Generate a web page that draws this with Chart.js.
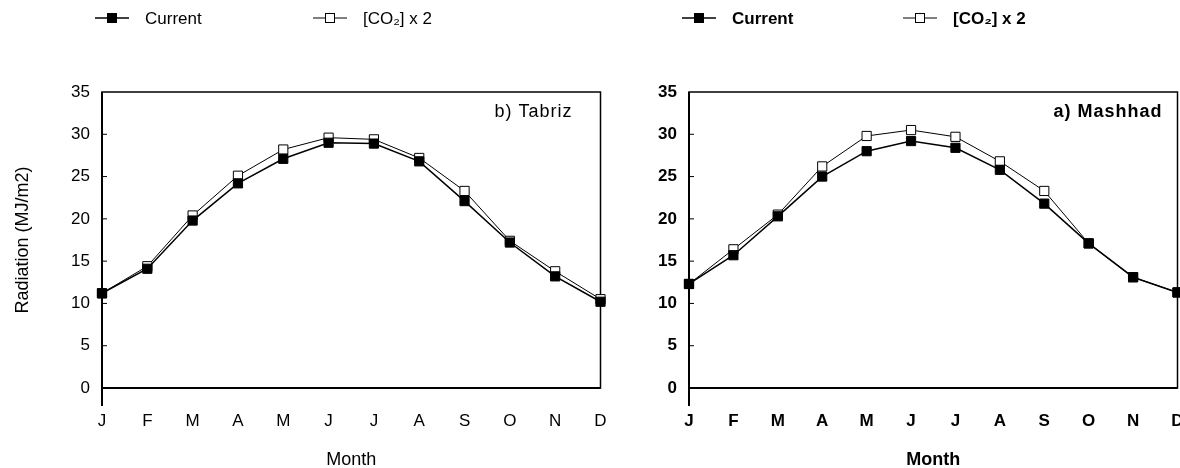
<!DOCTYPE html>
<html>
<head>
<meta charset="utf-8">
<script src="https://cdn.jsdelivr.net/npm/chart.js@4"></script>
<style>
  body { margin: 0; background: #fff; width: 1180px; height: 468px; overflow: hidden; position: relative; }
  canvas { position: absolute; top: 0; }
  #tabriz { left: 0; }
  #mashhad { left: 610px; }
</style>
</head>
<body>
<canvas id="tabriz" width="608" height="468"></canvas>
<canvas id="mashhad" width="575" height="468"></canvas>
<script>
// Data (MJ/m2 per month)
let months = ['J', 'F', 'M', 'A', 'M', 'J', 'J', 'A', 'S', 'O', 'N', 'D'];
let yMin = 0;
let yMax = 35;
let yStep = 5;
let seriesNames = ['Current', '[CO\u2082] x 2'];

let tabrizCurrent = [11.2, 14.1, 19.8, 24.2, 27.1, 29.0, 28.9, 26.8, 22.1, 17.2, 13.2, 10.2];
let tabrizDouble  = [11.2, 14.4, 20.4, 25.1, 28.2, 29.6, 29.4, 27.2, 23.3, 17.4, 13.8, 10.5];

let mashhadCurrent = [12.3, 15.7, 20.3, 25.0, 28.0, 29.2, 28.4, 25.8, 21.8, 17.1, 13.1, 11.3];
let mashhadDouble  = [12.3, 16.4, 20.5, 26.2, 29.8, 30.5, 29.7, 26.8, 23.3, 17.1, 13.1, 11.3];

const FONT = "'Liberation Sans', Arial, Helvetica, sans-serif";

// small legend marker: line with a square in the middle
function drawKey(ctx, cx, cy, filled, lw) {
    ctx.save();
    ctx.strokeStyle = '#000';
    ctx.lineWidth = lw;
    ctx.beginPath();
    ctx.moveTo(cx - 17, cy);
    ctx.lineTo(cx + 17, cy);
    ctx.stroke();
    ctx.fillStyle = filled ? '#000' : '#fff';
    ctx.fillRect(cx - 4.5, cy - 4.5, 9, 9);
    ctx.lineWidth = 1;
    ctx.strokeRect(cx - 4.5, cy - 4.5, 9, 9);
    ctx.restore();
}

// frame, inward ticks, panel label and the key above the plot
const framePlugin = {
    id: 'frame',
    beforeDatasetsDraw(chart, args, opts) {
        let ctx = chart.ctx;
        let a = chart.chartArea;
        let y = chart.scales.y;
        ctx.save();
        ctx.strokeStyle = '#000';
        ctx.lineWidth = 1.5;
        ctx.strokeRect(a.left, a.top, a.right - a.left, a.bottom - a.top);
        ctx.lineWidth = 2;
        ctx.beginPath();
        ctx.moveTo(a.left, a.top);
        ctx.lineTo(a.left, a.bottom + 18);
        ctx.moveTo(a.left, a.bottom);
        ctx.lineTo(a.right, a.bottom);
        ctx.stroke();
        ctx.lineWidth = 1;
        ctx.beginPath();
        y.ticks.forEach(t => {
            if (t.value <= yMin || t.value >= yMax) return;
            let py = y.getPixelForValue(t.value);
            ctx.moveTo(a.left, py);
            ctx.lineTo(a.left + 5, py);
        });
        ctx.stroke();
        ctx.restore();
    },
    afterDraw(chart, args, opts) {
        let ctx = chart.ctx;
        let a = chart.chartArea;
        let weight = opts.bold ? 'bold ' : '';
        ctx.save();
        ctx.fillStyle = '#000';
        ctx.font = weight + '18px ' + FONT;
        ctx.letterSpacing = '1px';
        ctx.textAlign = 'right';
        ctx.textBaseline = 'middle';
        ctx.fillText(opts.label, a.right - opts.labelInset, a.top + 20);
        ctx.letterSpacing = '0px';

        ctx.font = weight + '17px ' + FONT;
        ctx.textAlign = 'left';
        opts.keys.forEach((k, i) => {
            drawKey(ctx, k.x, 18, i === 0, i === 0 ? 1.5 : 1);
            ctx.fillText(seriesNames[i], k.x + 33, 19);
        });
        ctx.restore();
    }
};

function makePanel(id, current, doubled, label, bold, yWidth, labelInset, keys, showTitle) {
    let weight = bold ? 'bold' : 'normal';
    let tickFont = { family: FONT, size: 17, weight: weight };
    let titleFont = { family: FONT, size: 18, weight: weight };
    return new Chart(document.getElementById(id), {
        type: 'line',
        data: {
            labels: months,
            datasets: [{
                label: seriesNames[0],
                data: current,
                borderColor: '#000',
                borderWidth: 1.5,
                pointStyle: 'rect',
                pointRadius: 6.5,
                pointBackgroundColor: '#000',
                pointBorderColor: '#000',
                pointBorderWidth: 1,
                tension: 0,
                clip: false
            }, {
                label: seriesNames[1],
                data: doubled,
                borderColor: '#000',
                borderWidth: 1,
                pointStyle: 'rect',
                pointRadius: 6.5,
                pointBackgroundColor: '#fff',
                pointBorderColor: '#000',
                pointBorderWidth: 1,
                tension: 0,
                clip: false
            }]
        },
        options: {
            responsive: false,
            animation: false,
            layout: { padding: { top: 92, right: 0, left: 0, bottom: 0 } },
            plugins: {
                legend: { display: false },
                tooltip: { enabled: false },
                frame: { label: label, bold: bold, keys: keys, labelInset: labelInset }
            },
            scales: {
                x: {
                    offset: false,
                    // invisible tick marks just push the labels down
                    grid: { display: true, drawOnChartArea: false, drawTicks: true, tickLength: 23, tickColor: 'rgba(0,0,0,0)' },
                    border: { display: false },
                    ticks: { color: '#000', font: tickFont, padding: 0, autoSkip: false, maxRotation: 0 },
                    title: { display: true, text: 'Month', color: '#000', font: titleFont, padding: { top: 0, bottom: -3 } },
                    afterFit: s => { s.height = 80; }
                },
                y: {
                    min: yMin,
                    max: yMax,
                    grid: { display: false },
                    border: { display: false },
                    ticks: { stepSize: yStep, color: '#000', font: tickFont, padding: 4 },
                    title: { display: showTitle, text: 'Radiation (MJ/m2)', color: '#000', font: titleFont, padding: { top: 12, bottom: 0 } },
                    afterFit: s => { s.width = yWidth; }
                }
            }
        },
        plugins: [framePlugin]
    });
}

makePanel('tabriz', tabrizCurrent, tabrizDouble, 'b) Tabriz', false, 102, 28,
    [{ x: 112 }, { x: 330 }], true);
makePanel('mashhad', mashhadCurrent, mashhadDouble, 'a) Mashhad', true, 79, 15,
    [{ x: 89 }, { x: 310 }], false);
</script>
</body>
</html>
